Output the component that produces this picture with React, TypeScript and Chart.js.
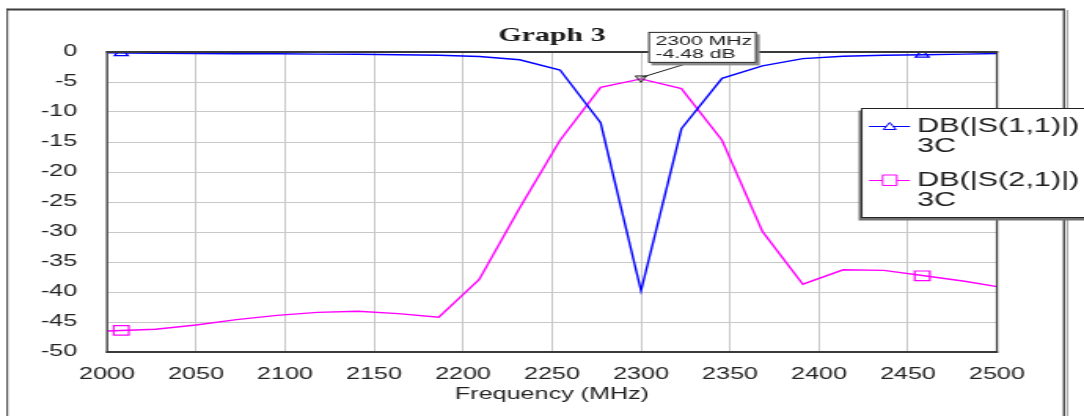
import React, { useEffect, useRef } from 'react';
import { Chart, registerables } from 'chart.js';

Chart.register(...registerables);

// ---------- data ----------
const freqMHz = [2000, 2027.3, 2050, 2072.7, 2095.5, 2118.2, 2140.9, 2163.6, 2186.4, 2209.1, 2231.8, 2254.5, 2277.3, 2300, 2322.7, 2345.5, 2368.2, 2390.9, 2413.6, 2436.4, 2459.1, 2481.8, 2500];
const s11Db = [-0.15, -0.2, -0.25, -0.28, -0.3, -0.35, -0.38, -0.45, -0.55, -0.75, -1.3, -3.0, -11.8, -39.8, -12.8, -4.4, -2.3, -1.1, -0.7, -0.55, -0.45, -0.35, -0.25];
const s21Db = [-46.5, -46.2, -45.5, -44.6, -43.9, -43.4, -43.2, -43.6, -44.2, -37.9, -26.0, -14.7, -5.9, -4.48, -6.1, -14.7, -29.9, -38.7, -36.3, -36.4, -37.3, -38.2, -39.1];
const markerFreqs = [2008, 2458];
const s11MarkerDb = [-0.2, -0.45];
const s21MarkerDb = [-46.4, -37.3];
const seriesNames = ['DB(|S(1,1)|)', 'DB(|S(2,1)|)'];
const seriesSource = '3C';
const seriesColors = ['#0000ff', '#ff00ff'];
const readoutFreq = 2300;
const readoutDb = -4.48;
const chartTitle = 'Graph 3';
const xAxisTitle = 'Frequency (MHz)';
const xMin = 2000, xMax = 2500, xStep = 50;
const yMin = -50, yMax = 0, yStep = 5;

// ---------- layout ----------
const PAGE_W = 1084;
const H = 416;
const CW = 690;
const SX = PAGE_W / CW;
const px = (pageX: number) => pageX / SX;

const FONT = "'Liberation Sans', Arial, sans-serif";

const framePlugin = {
  id: 'frame',
  beforeDraw(chart: any) {
    const { ctx } = chart;
    ctx.save();
    ctx.fillStyle = '#ffffff';
    ctx.fillRect(0, 0, chart.width, chart.height);
    ctx.fillStyle = '#3c3c3c';
    ctx.fillRect(px(7), 8.5, px(1064) - px(7), 2);
    ctx.fillRect(px(6.5), 8.5, 1, H);
    ctx.fillRect(px(1063), 8.5, 1.3, H);
    ctx.fillStyle = '#a8a8a8';
    ctx.fillRect(px(1066.5), 10, 1.2, H);
    ctx.restore();
  },
  afterDatasetsDraw(chart: any) {
    const { ctx, chartArea: a } = chart;
    ctx.save();
    ctx.fillStyle = '#3a3a3a';
    ctx.fillRect(a.left - 0.6, a.top - 1, a.right - a.left + 1.2, 2);
    ctx.fillRect(a.left - 0.6, a.bottom - 1, a.right - a.left + 1.2, 2);
    ctx.fillRect(a.left - 0.6, a.top - 1, 1.3, a.bottom - a.top + 2);
    ctx.fillRect(a.right - 0.7, a.top - 1, 1.3, a.bottom - a.top + 2);
    ctx.restore();
  },
  afterDraw(chart: any) {
    const { ctx } = chart;
    const xs = chart.scales.x;
    const ys = chart.scales.y;
    ctx.save();

    // ---- readout marker ----
    const mx = xs.getPixelForValue(readoutFreq);
    const my = ys.getPixelForValue(readoutDb);
    ctx.strokeStyle = '#333';
    ctx.lineWidth = 1;
    ctx.fillStyle = 'rgba(120,120,120,0.35)';
    ctx.beginPath();
    ctx.moveTo(mx - 3.6, my - 3);
    ctx.lineTo(mx + 3.6, my - 3);
    ctx.lineTo(mx, my + 3.5);
    ctx.closePath();
    ctx.fill();
    ctx.stroke();

    const bx = mx + 4.6;
    const by = my - 47;
    const bw = 69;
    const bh = 31;
    ctx.strokeStyle = '#222';
    ctx.beginPath();
    ctx.moveTo(mx + 0.5, my - 1.6);
    ctx.lineTo(mx + 30.7, by + bh);
    ctx.stroke();
    ctx.fillStyle = '#8a8a8a';
    ctx.fillRect(bx + 2, by + 2.5, bw, bh);
    ctx.fillStyle = '#fff';
    ctx.fillRect(bx, by, bw, bh);
    ctx.strokeStyle = '#222';
    ctx.strokeRect(bx + 0.5, by + 0.5, bw - 1, bh - 1);
    ctx.fillStyle = '#222';
    ctx.font = `13.5px ${FONT}`;
    ctx.textBaseline = 'middle';
    ctx.textAlign = 'left';
    ctx.fillText(`${readoutFreq} MHz`, bx + 4.6, by + 9.7);
    ctx.fillText(`${readoutDb.toFixed(2)} dB`, bx + 4.6, by + 22.2);

    // ---- legend ----
    const lx = px(861);
    const ly = 108;
    const lw = 200;
    const lh = 110;
    ctx.fillStyle = '#707070';
    ctx.fillRect(lx - 1.5, ly + 2.5, lw, lh);
    ctx.fillStyle = '#fff';
    ctx.fillRect(lx, ly, lw, lh);
    ctx.strokeStyle = '#222';
    ctx.lineWidth = 1;
    ctx.strokeRect(lx + 0.5, ly + 0.5, lw, lh - 1);

    const rowY = [126, 180];
    chart.data.datasets.slice(0, 2).forEach((ds: any, i: number) => {
      const y = rowY[i];
      const x0 = px(869);
      const x1 = px(910);
      const cx = px(889.7);
      ctx.strokeStyle = ds.borderColor;
      ctx.lineWidth = 1;
      ctx.beginPath();
      ctx.moveTo(x0, y + 0.5);
      ctx.lineTo(x1, y + 0.5);
      ctx.stroke();
      ctx.beginPath();
      if (ds.pointStyle === 'triangle') {
        ctx.moveTo(cx - 4, y + 3.5);
        ctx.lineTo(cx + 4, y + 3.5);
        ctx.lineTo(cx, y - 3.5);
        ctx.closePath();
      } else {
        ctx.rect(cx - 4.5, y - 5, 9, 10.5);
      }
      ctx.fillStyle = '#fff';
      ctx.fill();
      ctx.stroke();
      ctx.fillStyle = '#1e1e1e';
      ctx.font = `19.5px ${FONT}`;
      ctx.textBaseline = 'middle';
      ctx.textAlign = 'left';
      ctx.fillText(ds.label, px(917), y + 0.5);
      ctx.fillText(seriesSource, px(917), y + 21);
    });
    ctx.restore();
  },
};

export default function App() {
  const ref = useRef<HTMLCanvasElement>(null);

  useEffect(() => {
    const canvas = ref.current;
    if (!canvas) return;
    const s11 = freqMHz.map((f, i) => ({ x: f, y: s11Db[i] }));
    const s21 = freqMHz.map((f, i) => ({ x: f, y: s21Db[i] }));
    const s11m = markerFreqs.map((f, i) => ({ x: f, y: s11MarkerDb[i] }));
    const s21m = markerFreqs.map((f, i) => ({ x: f, y: s21MarkerDb[i] }));

    const chart = new Chart(canvas, {
      type: 'line',
      data: {
        datasets: [
          { label: seriesNames[0], data: s11, borderColor: seriesColors[0], borderWidth: 1.4, pointRadius: 0, tension: 0, pointStyle: 'triangle', fill: false },
          { label: seriesNames[1], data: s21, borderColor: seriesColors[1], borderWidth: 1.4, pointRadius: 0, tension: 0, pointStyle: 'rect', fill: false },
          { label: 'm1', data: s11m, showLine: false, pointStyle: 'triangle', pointRadius: 5, pointBorderColor: seriesColors[0], pointBackgroundColor: 'rgba(0,0,0,0)', pointBorderWidth: 1.2, borderColor: seriesColors[0] },
          { label: 'm2', data: s21m, showLine: false, pointStyle: 'rect', pointRadius: 6.8, pointBorderColor: seriesColors[1], pointBackgroundColor: 'rgba(0,0,0,0)', pointBorderWidth: 1.2, borderColor: seriesColors[1] },
        ],
      },
      options: {
        responsive: false,
        maintainAspectRatio: false,
        animation: false,
        devicePixelRatio: 1,
        layout: { padding: { left: 0, right: CW - px(997), top: 0, bottom: 0 } },
        plugins: {
          legend: { display: false },
          tooltip: { enabled: false },
          title: {
            display: true,
            text: chartTitle,
            fullSize: false,
            color: '#1a1a1a',
            font: { family: "'Liberation Serif', 'Times New Roman', serif", size: 19, weight: 'bold' },
            padding: { top: 25, bottom: 4.2 },
          },
        },
        scales: {
          x: {
            type: 'linear',
            min: xMin,
            max: xMax,
            afterFit: (s: any) => { s.height = H - 352; },
            ticks: {
              stepSize: xStep,
              padding: 12.9,
              color: '#222',
              font: { family: FONT, size: 16 },
              callback: (v: any) => String(v),
              maxRotation: 0,
            },
            grid: { color: '#c8c8c8', lineWidth: 1, drawTicks: false },
            border: { display: false },
            title: {
              display: true,
              text: xAxisTitle,
              color: '#222',
              font: { family: FONT, size: 16 },
              padding: { top: 11.4, bottom: 11.4 },
            },
          },
          y: {
            type: 'linear',
            min: yMin,
            max: yMax,
            afterFit: (s: any) => { s.width = px(107); },
            ticks: {
              stepSize: yStep,
              padding: 19,
              color: '#222',
              font: { family: FONT, size: 16 },
              callback: (v: any) => String(v),
            },
            grid: { color: '#c8c8c8', lineWidth: 1, drawTicks: false },
            border: { display: false },
          },
        },
      },
      plugins: [framePlugin],
    } as any);
    return () => chart.destroy();
  }, []);

  return (
    <div style={{ position: 'fixed', left: 0, top: 0, width: PAGE_W, height: H, overflow: 'hidden', background: '#fff' }}>
      <div style={{ width: CW, height: H, transform: `scaleX(${SX})`, transformOrigin: '0 0' }}>
        <canvas ref={ref} width={CW} height={H} style={{ display: 'block', width: CW, height: H }} />
      </div>
    </div>
  );
}
